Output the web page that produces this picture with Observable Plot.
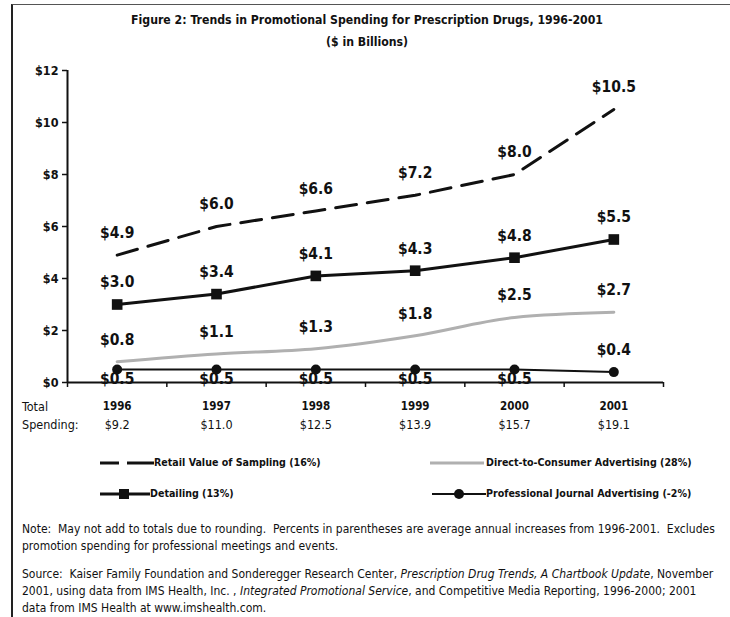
<!DOCTYPE html>
<html>
<head>
<meta charset="utf-8">
<script src="https://cdn.jsdelivr.net/npm/d3@7"></script>
<script src="https://cdn.jsdelivr.net/npm/@observablehq/plot@0.6"></script>
<style>
  html, body { margin: 0; padding: 0; background: #fff; }
  #page { position: relative; width: 730px; height: 617px; background: #fff; overflow: hidden;
          font-family: "DejaVu Sans Condensed", "DejaVu Sans", sans-serif; color: #111; }
  #frame { position: absolute; left: 11px; top: 4px; right: -5px; bottom: -5px;
           border-left: 2px solid #222; border-top: 1px solid #555; }
  #title { position: absolute; top: 9px; left: 0; width: 734px; text-align: center;
           font-weight: bold; font-size: 12.2px; line-height: 22px; }
  #chart { position: absolute; left: 0; top: 0; }
  .abs { position: absolute; white-space: nowrap; }
  .lg { font-weight: bold; font-size: 10.6px; }
  .note { font-size: 12px; line-height: 17px; }
</style>
</head>
<body>
<div id="page">
  <div id="frame"></div>
  <div id="title">Figure 2: Trends in Promotional Spending for Prescription Drugs, 1996-2001<br>($ in Billions)</div>
  <div id="chart"></div>
  <div class="abs" style="left:22px;top:398px;font-size:12.5px;line-height:18px;">Total<br>Spending:</div>

  <div class="abs lg" style="left:98px;top:455px;">
    <svg width="56" height="16" style="vertical-align:middle"><line x1="2" y1="8" x2="21" y2="8" stroke="#111" stroke-width="3"/><line x1="29" y1="8" x2="56" y2="8" stroke="#111" stroke-width="3"/></svg>Retail Value of Sampling (16%)</div>
  <div class="abs lg" style="left:430px;top:455px;">
    <svg width="56" height="16" style="vertical-align:middle"><line x1="0" y1="8" x2="54" y2="8" stroke="#b0b0b0" stroke-width="3"/></svg>Direct-to-Consumer Advertising (28%)</div>
  <div class="abs lg" style="left:98px;top:486px;">
    <svg width="52" height="16" style="vertical-align:middle"><line x1="2" y1="8" x2="52" y2="8" stroke="#111" stroke-width="3"/><rect x="21" y="3" width="10" height="10" fill="#111"/></svg>Detailing (13%)</div>
  <div class="abs lg" style="left:432px;top:486px;">
    <svg width="54" height="16" style="vertical-align:middle"><line x1="0" y1="8" x2="54" y2="8" stroke="#111" stroke-width="2"/><circle cx="27" cy="8" r="5" fill="#111"/></svg>Professional Journal Advertising (-2%)</div>

  <div class="abs note" style="left:22px;top:521px;">Note:&nbsp; May not add to totals due to rounding.&nbsp; Percents in parentheses are average annual increases from 1996-2001.&nbsp; Excludes<br>promotion spending for professional meetings and events.</div>
  <div class="abs note" style="left:22px;top:566px;">Source:&nbsp; Kaiser Family Foundation and Sonderegger Research Center, <i>Prescription Drug Trends, A Chartbook Update</i>, November<br>2001, using data from IMS Health, Inc. , <i>Integrated Promotional Service</i>, and Competitive Media Reporting, 1996-2000; 2001<br>data from IMS Health at www.imshealth.com.</div>
</div>
<script>
const years = [1996, 1997, 1998, 1999, 2000, 2001];
const sampling = [4.9, 6.0, 6.6, 7.2, 8.0, 10.5];
const detailing = [3.0, 3.4, 4.1, 4.3, 4.8, 5.5];
const dtc = [0.8, 1.1, 1.3, 1.8, 2.5, 2.7];
const journal = [0.5, 0.5, 0.5, 0.5, 0.5, 0.4];
const totals = [9.2, 11.0, 12.5, 13.9, 15.7, 19.1];
const yTicks = [0, 2, 4, 6, 8, 10, 12];

const rows = (vals) => years.map((yr, i) => ({year: yr, value: vals[i]}));
const S = rows(sampling), D = rows(detailing), C = rows(dtc), J = rows(journal);
const money = (v) => "$" + d3.format(".1f")(v);
const bounds = years.map(y => y - 0.5).concat([years[years.length - 1] + 0.5]);
const lbl = {x: "year", y: "value", text: d => money(d.value), fontWeight: "bold", fontSize: 15.5, fill: "#111"};

const chart = Plot.plot({
  width: 730,
  height: 440,
  marginTop: 70,
  marginBottom: 58,
  marginLeft: 67,
  marginRight: 67,
  style: {background: "transparent", fontFamily: "'DejaVu Sans Condensed', 'DejaVu Sans', sans-serif", color: "#111", overflow: "visible"},
  x: {type: "linear", domain: [bounds[0], bounds[bounds.length - 1]]},
  y: {type: "linear", domain: [0, 12]},
  marks: [
    Plot.line(C, {x: "year", y: "value", stroke: "#b0b0b0", strokeWidth: 3, curve: "monotone-x"}),
    Plot.line(S, {x: "year", y: "value", stroke: "#111", strokeWidth: 3, strokeDasharray: "21,11"}),
    Plot.line(D, {x: "year", y: "value", stroke: "#111", strokeWidth: 3}),
    Plot.dot(D, {x: "year", y: "value", symbol: "square", r: 6, fill: "#111"}),
    Plot.line(J, {x: "year", y: "value", stroke: "#111", strokeWidth: 2}),
    Plot.dot(J, {x: "year", y: "value", r: 5, fill: "#111"}),
    Plot.ruleY([0], {stroke: "#111", strokeWidth: 2}),
    Plot.ruleX([bounds[0]], {y1: 0, y2: 12, stroke: "#111", strokeWidth: 2}),
    Plot.axisX({ticks: bounds, tickFormat: () => "", tickSize: 5, strokeWidth: 1.5, label: null}),
    Plot.axisY({ticks: yTicks, tickFormat: d => "$" + d, tickSize: 5, tickPadding: 4, fontWeight: "bold", fontSize: 12.5, strokeWidth: 1.5, label: null}),
    Plot.text(years, {x: d => d, frameAnchor: "bottom", dy: 27, text: d => String(d), fontWeight: "bold", fontSize: 11.5}),
    Plot.text(years, {x: d => d, frameAnchor: "bottom", dy: 46, text: (d, i) => money(totals[i]), fontSize: 12.5}),
    Plot.text(S, {...lbl, dy: -22}),
    Plot.text(D, {...lbl, dy: -22}),
    Plot.text(C, {...lbl, dy: -22}),
    Plot.text(J.slice(0, -1), {...lbl, dy: 10}),
    Plot.text(J.slice(-1), {...lbl, dy: -22})
  ]
});
document.getElementById("chart").appendChild(chart);
</script>
</body>
</html>
